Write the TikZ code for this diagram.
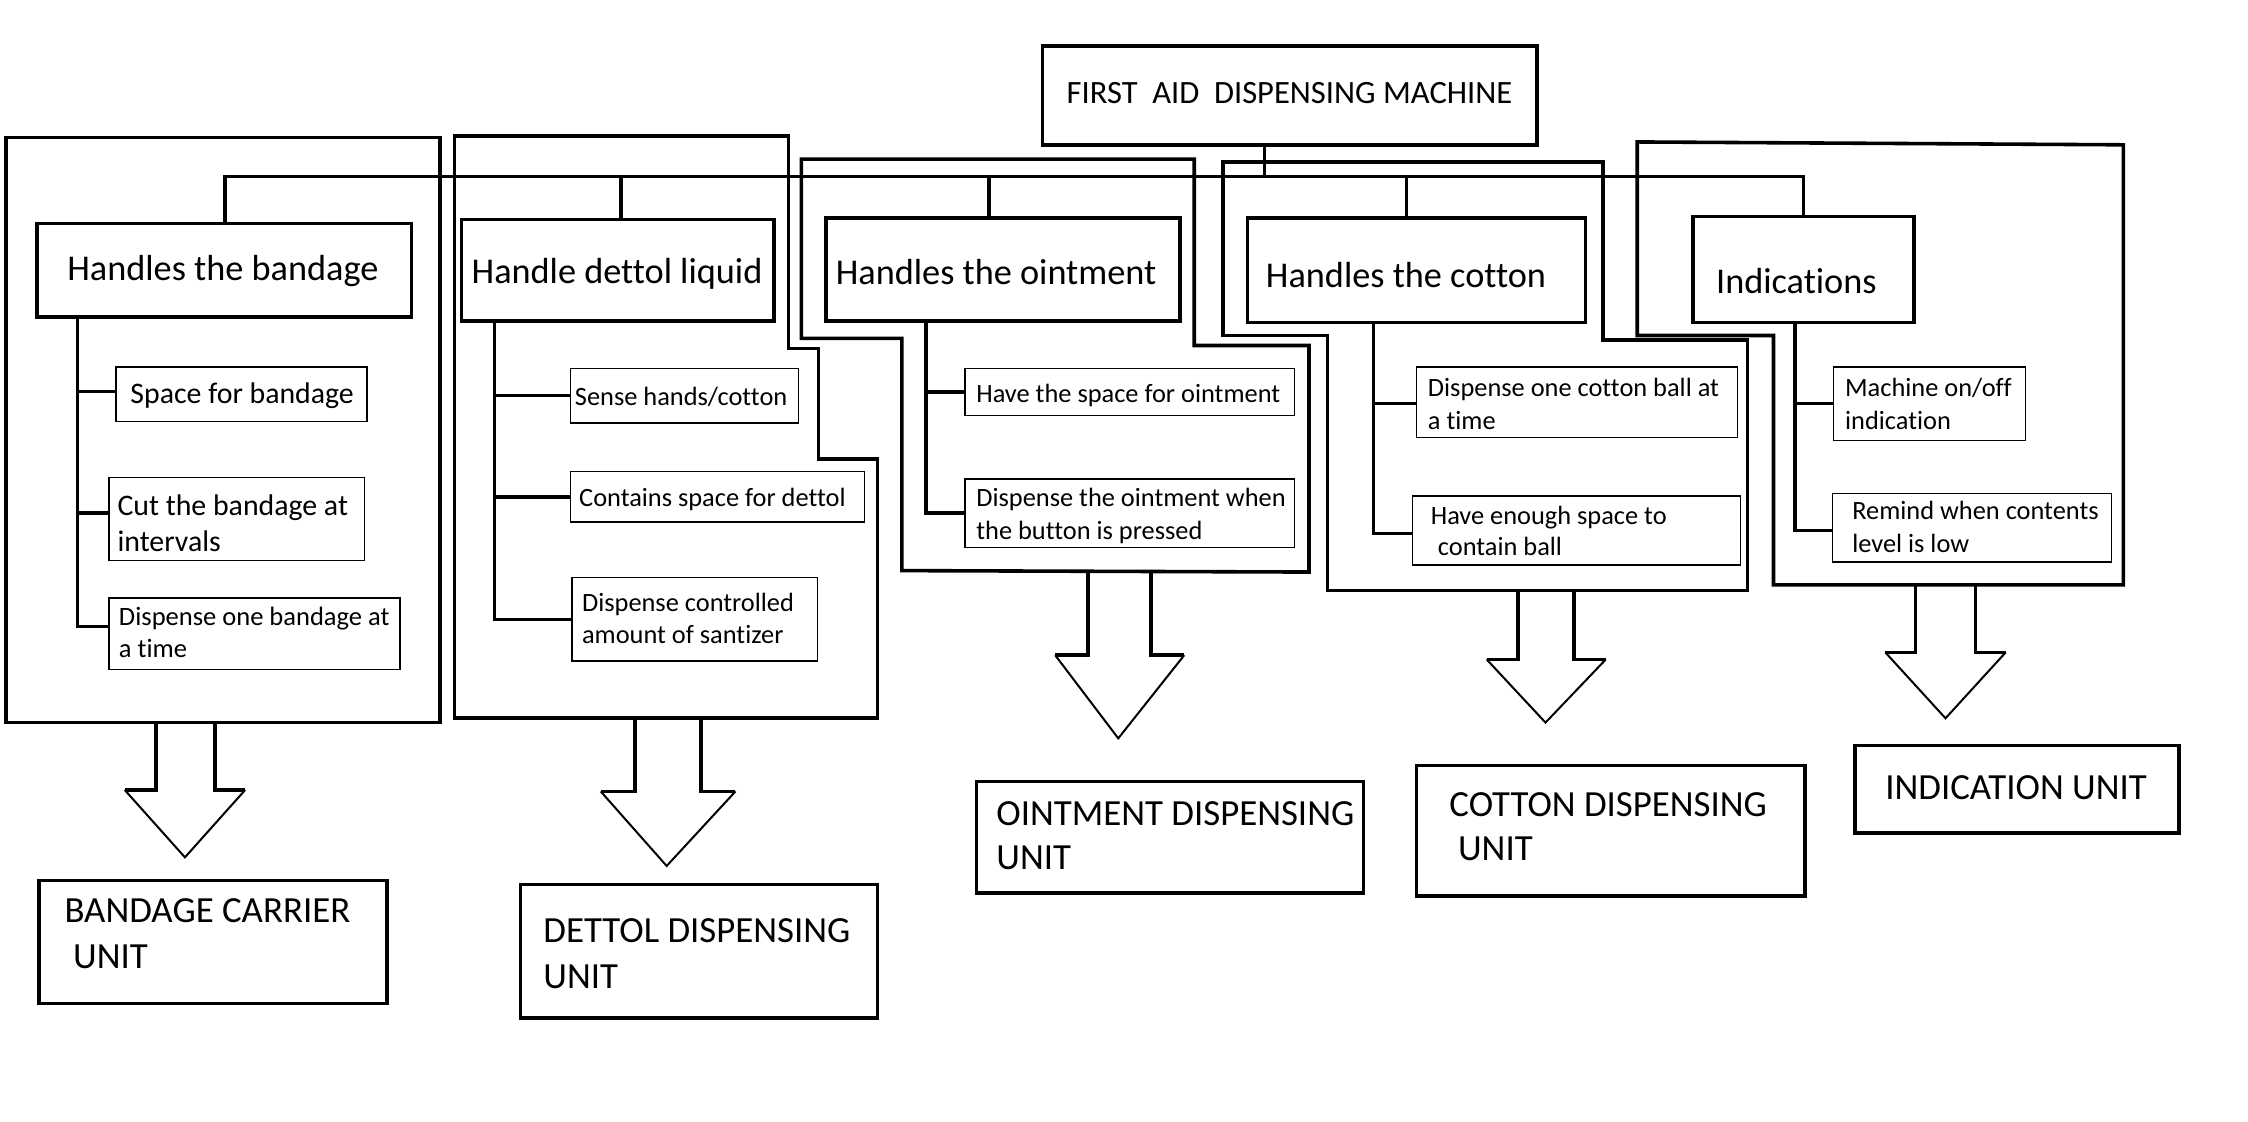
\documentclass[tikz,border=0pt]{standalone}
\usepackage{fontspec}
\setmainfont{Carlito}[Ligatures={NoCommon}]
\usetikzlibrary{fit}
\newcommand\fsz[1]{\fontsize{#1}{#1}\selectfont}
\tikzset{
  thk/.style={line width=2.5pt},
  thn/.style={line width=0.9pt},
  headline/.style={line width=1.4pt},
  bigbox/.style={draw, thk, inner sep=0pt, outer sep=0pt},
  smallbox/.style={draw, thn, inner sep=0pt, outer sep=0pt},
  lbl/.style={anchor=base west, inner sep=0pt, outer sep=0pt, yshift=-1.5pt},
  link/.style={thk},
  group/.style={thk, line join=miter}
}
\newcommand\mkbox[6]{\coordinate (#1-a) at (#3,#4); \coordinate (#1-b) at (#5,#6); \node[#2, fit=(#1-a)(#1-b)] (#1) {};}
\newcommand\tx[5]{\node[lbl, font=\fsz{#4}] (#1) at (#2,#3) {#5};}
\newcommand\barrow[8]{%
  \draw[thk] (#1,#3) -- (#1,#4) -- (#5,#4);
  \draw[thk] (#2,#3) -- (#2,#4) -- (#6,#4);
  \draw[headline] (#5,#4) -- (#7,#8) -- (#6,#4);}
\begin{document}
\begin{tikzpicture}[x=1pt, y=-1pt]
\useasboundingbox (0,0) rectangle (1568,782.6);

% ---------- group outlines ----------
\draw[group] (4,96) rectangle (307,504);
\draw[group] (317,95) -- (550,95) -- (550,243) -- (571,243) -- (571,320) -- (612,320) -- (612,501) -- (317,501) -- cycle;
\draw[group] (559,111) -- (833,111) -- (833,241) -- (913,241) -- (913,399) -- (629,398) -- (629,236) -- (559,236) -- cycle;
\draw[group] (853,113) -- (1118,113) -- (1118,237) -- (1219,237) -- (1219,412) -- (926,412) -- (926,234) -- (853,234) -- cycle;
\draw[group] (1142,99) -- (1481,101) -- (1481,408) -- (1237,408) -- (1237,234) -- (1142,234) -- cycle;

% ---------- boxes ----------
\mkbox{title}{bigbox}{727}{32}{1072}{101}
\mkbox{bandL1}{bigbox}{26}{156}{287}{221}
\mkbox{detL1}{bigbox}{322}{153}{540}{224}
\mkbox{ointL1}{bigbox}{576}{152}{823}{224}
\mkbox{cotL1}{bigbox}{870}{152}{1106}{225}
\mkbox{indL1}{bigbox}{1181}{151}{1335}{225}

\mkbox{s1}{smallbox}{81}{256}{256}{294}
\mkbox{s2}{smallbox}{76}{333}{254}{391}
\mkbox{s3}{smallbox}{76}{417}{279}{467}
\mkbox{d1}{smallbox}{398}{257}{557}{295}
\mkbox{d2}{smallbox}{398}{329}{603}{364}
\mkbox{d3}{smallbox}{399}{403}{570}{461}
\mkbox{o1}{smallbox}{673}{257}{903}{290}
\mkbox{o2}{smallbox}{673}{334}{903}{382}
\mkbox{c1}{smallbox}{988}{256}{1212}{305}
\mkbox{c2}{smallbox}{985}{346}{1214}{394}
\mkbox{i1}{smallbox}{1279}{256}{1413}{307}
\mkbox{i2}{smallbox}{1278}{344}{1473}{392}

\mkbox{bu}{bigbox}{27}{614}{270}{700}
\mkbox{du}{bigbox}{363}{617}{612}{710}
\mkbox{ou}{bigbox}{681}{545}{951}{623}
\mkbox{cu}{bigbox}{988}{534}{1259}{625}
\mkbox{iu}{bigbox}{1294}{520}{1520}{581}

% ---------- top bus ----------
\coordinate (busT) at (882,123);
\coordinate (busL) at (157,123);
\coordinate (busR) at (1258,123);
\coordinate (dD) at (433,123);
\coordinate (dO) at (690,123);
\coordinate (dC) at (981,123);
\draw[link] (busT |- title.south) -- (busT);
\draw[link] (busL |- bandL1.north) -- (busL) -- (busR) -- (busR |- indL1.north);
\draw[link] (dD) -- (dD |- detL1.north);
\draw[link] (dO) -- (dO |- ointL1.north);
\draw[link] (dC) -- (dC |- cotL1.north);

% ---------- trees ----------
\coordinate (trB) at (54,0);
\coordinate (trD) at (345,0);
\coordinate (trO) at (646,0);
\coordinate (trC) at (958,0);
\coordinate (trI) at (1252,0);
\draw[link] (trB |- bandL1.south) |- ([yshift=2pt]s1.west);
\draw[link] (trB |- bandL1.south) |- ([yshift=4pt]s2.west);
\draw[link] (trB |- bandL1.south) |- ([yshift=5pt]s3.west);
\draw[link] (trD |- detL1.south) |- (d1.west);
\draw[link] (trD |- detL1.south) |- (d2.west);
\draw[link] (trD |- detL1.south) |- (d3.west);
\draw[link] (trO |- ointL1.south) |- (o1.west);
\draw[link] (trO |- ointL1.south) |- (o2.west);
\draw[link] (trC |- cotL1.south) |- ([yshift=-1pt]c1.west);
\draw[link] (trC |- cotL1.south) |- ([yshift=-2pt]c2.west);
\draw[link] (trI |- indL1.south) |- (i1.west);
\draw[link] (trI |- indL1.south) |- ([yshift=-2pt]i2.west);

% ---------- block arrows ----------
\barrow{109}{150}{504}{551}{87}{171}{129}{598}
\barrow{443}{489}{501}{552}{419}{513}{465}{604}
\barrow{759}{803}{398}{457}{736}{826}{780}{515}
\barrow{1059}{1098}{412}{460}{1037}{1120}{1078}{504}
\barrow{1336}{1378}{408}{455}{1315}{1399}{1357}{501}

% ---------- texts ----------
\tx{tTitle}{744}{71}{22.7}{FIRST\ \ AID\ \ DISPENSING MACHINE}
\tx{tBand}{47}{194}{25.3}{Handles the bandage}
\tx{tDet}{329}{196}{25.3}{Handle dettol liquid}
\tx{tOint}{583}{197}{25.3}{Handles the ointment}
\tx{tCot}{883}{199}{25.3}{Handles the cotton}
\tx{tInd}{1197}{203}{25.3}{Indications}

\tx{tS1}{91}{280}{20.8}{Space for bandage}
\tx{tS2a}{82}{358}{20.8}{Cut the bandage at}
\tx{tS2b}{82}{383}{20.8}{intervals}
\tx{tS3a}{83}{435}{18.5}{Dispense one bandage at}
\tx{tS3b}{83}{457}{18.5}{a time}
\tx{tD1}{401}{281}{18.4}{Sense hands/cotton}
\tx{tD2}{404}{352}{18.4}{Contains space for dettol}
\tx{tD3a}{406}{425}{18.4}{Dispense controlled}
\tx{tD3b}{406}{447}{18.4}{amount of santizer}
\tx{tO1}{681}{279}{18.4}{Have the space for ointment}
\tx{tO2a}{681}{352}{18.4}{Dispense the ointment when}
\tx{tO2b}{681}{375}{18.4}{the button is pressed}
\tx{tC1a}{996}{275}{18.4}{Dispense one cotton ball at}
\tx{tC1b}{996}{298}{18.4}{a time}
\tx{tC2a}{998}{364}{18.4}{Have enough space to}
\tx{tC2b}{1003}{386}{18.4}{contain ball}
\tx{tI1a}{1287}{275}{18.4}{Machine on/off}
\tx{tI1b}{1287}{298}{18.4}{indication}
\tx{tI2a}{1292}{361}{18.4}{Remind when contents}
\tx{tI2b}{1292}{384}{18.4}{level is low}

\tx{tBU1}{45}{642}{25.7}{BANDAGE CARRIER}
\tx{tBU2}{51}{674}{25.7}{UNIT}
\tx{tDU1}{379}{656}{25.7}{DETTOL DISPENSING}
\tx{tDU2}{379}{688}{25.7}{UNIT}
\tx{tOU1}{695}{574}{25.7}{OINTMENT DISPENSING}
\tx{tOU2}{695}{605}{25.7}{UNIT}
\tx{tCU1}{1011}{568}{25.7}{COTTON DISPENSING}
\tx{tCU2}{1017}{599}{25.7}{UNIT}
\tx{tIU}{1315}{556}{25.7}{INDICATION UNIT}
\end{tikzpicture}
\end{document}
